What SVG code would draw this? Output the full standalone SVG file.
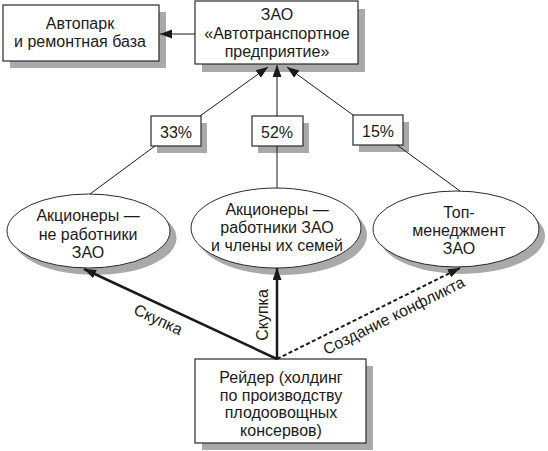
<svg xmlns="http://www.w3.org/2000/svg" width="548" height="451" viewBox="0 0 548 451">
<style>
text{font-family:"Liberation Sans",Arial,sans-serif;font-size:16px;fill:#1a1a1a;text-anchor:middle}
.box{fill:#fff;stroke:#2a2a2a;stroke-width:1.2}
.sh{fill:#a9a9a9}
.ell{fill:#fff;stroke:#2a2a2a;stroke-width:1}
.thin{stroke:#1a1a1a;stroke-width:1;fill:none}
.thick{stroke:#1a1a1a;stroke-width:2.5;fill:none}
.dash{stroke:#1a1a1a;stroke-width:2;fill:none;stroke-dasharray:4 2.5}
</style>
<defs>
<marker id="ah" markerUnits="userSpaceOnUse" markerWidth="14" markerHeight="10" refX="12" refY="4.5" orient="auto">
<path d="M0,0 L12,4.5 L0,9 z" fill="#1a1a1a"/>
</marker>
</defs>
<rect width="548" height="451" fill="#fff"/>
<g id="avtopark">
<rect class="sh" x="10" y="12" width="156" height="56"/>
<rect class="box" x="3" y="5" width="156" height="56"/>
<text x="80" y="29">Автопарк</text>
<text x="80" y="47">и ремонтная база</text>
</g>
<g id="zao">
<rect class="sh" x="202" y="9" width="163" height="63"/>
<rect class="box" x="195" y="1" width="163" height="63"/>
<text x="277" y="20">ЗАО</text>
<text x="277" y="39">«Автотранспортное</text>
<text x="277" y="57">предприятие»</text>
</g>
<g id="p33">
<rect class="sh" x="157" y="123" width="50" height="30"/>
<rect class="box" x="151" y="116" width="50" height="30"/>
<text x="176" y="138">33%</text>
</g>
<g id="p52">
<rect class="sh" x="258" y="123" width="51" height="30"/>
<rect class="box" x="252" y="116" width="51" height="30"/>
<text x="277" y="138">52%</text>
</g>
<g id="p15">
<rect class="sh" x="359" y="122" width="50" height="30"/>
<rect class="box" x="353" y="115" width="50" height="30"/>
<text x="378" y="137">15%</text>
</g>
<g id="ext">
<ellipse class="sh" cx="95" cy="238" rx="81.5" ry="37"/>
<ellipse class="ell" cx="88.5" cy="231" rx="81.5" ry="37"/>
<text x="88" y="221">Акционеры —</text>
<text x="88" y="240">не работники</text>
<text x="88" y="258">ЗАО</text>
</g>
<g id="emp">
<ellipse class="sh" cx="282" cy="235" rx="85" ry="40"/>
<ellipse class="ell" cx="276" cy="228" rx="85" ry="40"/>
<text x="277" y="215">Акционеры —</text>
<text x="277" y="233">работники ЗАО</text>
<text x="277" y="251">и члены их семей</text>
</g>
<g id="top">
<ellipse class="sh" cx="462" cy="236" rx="83" ry="38"/>
<ellipse class="ell" cx="456" cy="229" rx="83" ry="38"/>
<text x="459" y="218">Топ-</text>
<text x="459" y="236">менеджмент</text>
<text x="459" y="254">ЗАО</text>
</g>
<g id="raider">
<rect class="sh" x="202" y="366" width="171" height="84"/>
<rect class="box" x="195" y="359" width="171" height="84"/>
<text x="281" y="383">Рейдер (холдинг</text>
<text x="281" y="401">по производству</text>
<text x="281" y="418">плодоовощных</text>
<text x="281" y="436">консервов)</text>
</g>
<g id="connectors">
<line class="thin" x1="195" y1="34" x2="160" y2="34" marker-end="url(#ah)"/>
<line class="thin" x1="200" y1="116" x2="268" y2="67" marker-end="url(#ah)"/>
<line class="thin" x1="277" y1="116" x2="277" y2="65" marker-end="url(#ah)"/>
<line class="thin" x1="353" y1="115" x2="287" y2="67" marker-end="url(#ah)"/>
<line class="thin" x1="155" y1="146" x2="90" y2="194"/>
<line class="thin" x1="277" y1="146" x2="277" y2="188"/>
<line class="thin" x1="397" y1="145" x2="460" y2="191"/>
<line class="thick" x1="277" y1="359" x2="84" y2="269" marker-end="url(#ah)"/>
<line class="thick" x1="277" y1="359" x2="277" y2="268" marker-end="url(#ah)"/>
<line class="dash" x1="277" y1="359" x2="460" y2="268" marker-end="url(#ah)"/>
<text transform="translate(158,320) rotate(25)" y="5">Скупка</text>
<text transform="translate(263,315) rotate(-90)" y="5">Скупка</text>
<text transform="translate(394,316) rotate(-26.4)" y="5">Создание конфликта</text>
</g>
</svg>
